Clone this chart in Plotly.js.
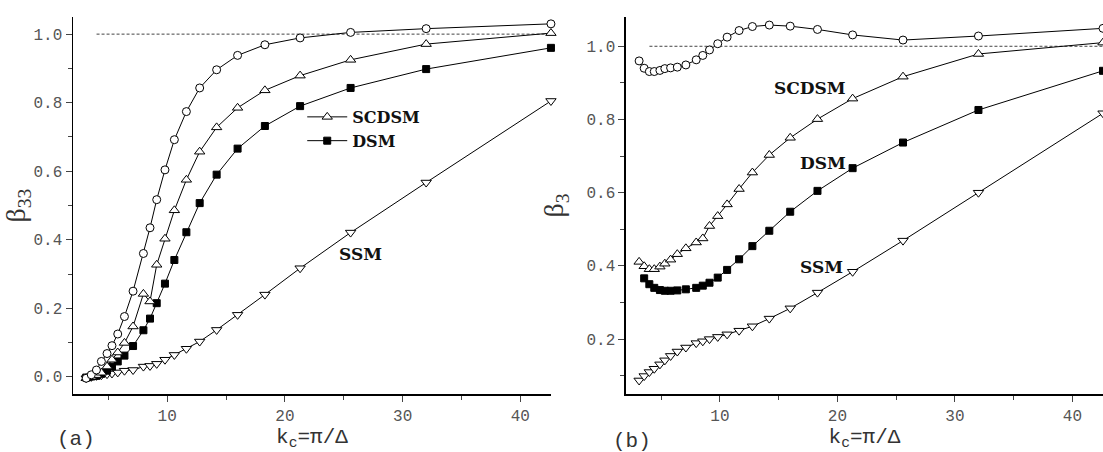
<!DOCTYPE html>
<html>
<head>
<meta charset="utf-8">
<script src="https://cdn.plot.ly/plotly-3.0.1.min.js"></script>
<style>html,body{margin:0;padding:0;background:#fff;}#chart{width:1103px;height:452px;}</style>
</head>
<body>
<div id="chart"></div>
<script>
// ---- data ----
var kcA = [3.12, 3.55, 3.99, 4.41, 4.89, 5.31, 5.80, 6.37, 7.10, 7.98, 8.54, 9.11, 9.81, 10.61, 11.63, 12.76, 14.20, 15.98, 18.30, 21.29, 25.58, 32.0, 42.6];
var gcdsmA = [-0.004, 0.006, 0.02, 0.045, 0.068, 0.091, 0.125, 0.176, 0.250, 0.360, 0.435, 0.517, 0.604, 0.692, 0.774, 0.843, 0.896, 0.938, 0.969, 0.989, 1.005, 1.016, 1.030];
var scdsmA = [-0.004, 0.0, 0.005, 0.012, 0.030, 0.05, 0.071, 0.099, 0.147, 0.242, 0.22, 0.327, 0.403, 0.486, 0.575, 0.657, 0.728, 0.785, 0.836, 0.879, 0.925, 0.971, 1.003];
var dsmA = [-0.002, 0.001, 0.003, 0.009, 0.018, 0.030, 0.045, 0.062, 0.090, 0.136, 0.170, 0.215, 0.272, 0.341, 0.422, 0.507, 0.590, 0.666, 0.732, 0.790, 0.843, 0.898, 0.960];
var ssmA = [-0.004, 0.0, 0.003, 0.005, 0.008, 0.010, 0.013, 0.018, 0.02, 0.03, 0.032, 0.038, 0.05, 0.064, 0.082, 0.103, 0.137, 0.181, 0.240, 0.317, 0.421, 0.567, 0.805];

var kcB = [3.12, 3.55, 3.99, 4.41, 4.89, 5.31, 5.80, 6.37, 7.10, 7.98, 8.54, 9.11, 9.81, 10.61, 11.63, 12.76, 14.20, 15.98, 18.30, 21.29, 25.58, 32.0, 42.6];
var kcBdsm = [3.55, 3.99, 4.41, 4.89, 5.31, 5.80, 6.37, 7.10, 7.98, 8.54, 9.11, 9.81, 10.61, 11.63, 12.76, 14.20, 15.98, 18.30, 21.29, 25.58, 32.0, 42.6];
var gcdsmB = [0.960, 0.940, 0.931, 0.931, 0.934, 0.939, 0.941, 0.943, 0.949, 0.963, 0.975, 0.990, 1.007, 1.025, 1.043, 1.054, 1.058, 1.055, 1.046, 1.031, 1.017, 1.028, 1.049];
var scdsmB = [0.411, 0.399, 0.391, 0.391, 0.398, 0.406, 0.417, 0.432, 0.448, 0.464, 0.475, 0.509, 0.536, 0.568, 0.610, 0.655, 0.703, 0.750, 0.801, 0.857, 0.917, 0.979, 1.010];
var dsmB = [0.366, 0.350, 0.340, 0.334, 0.332, 0.332, 0.333, 0.336, 0.340, 0.346, 0.354, 0.368, 0.389, 0.418, 0.454, 0.496, 0.548, 0.605, 0.667, 0.737, 0.826, 0.933];
var ssmB = [0.087, 0.099, 0.110, 0.119, 0.131, 0.142, 0.154, 0.166, 0.177, 0.189, 0.194, 0.200, 0.206, 0.213, 0.223, 0.235, 0.256, 0.284, 0.327, 0.384, 0.469, 0.600, 0.817];

var refX = [4.0, 42.6];
var refY = [1.0, 1.0];

var xTicks = [10, 20, 30, 40];
var yTicksA = [0.0, 0.2, 0.4, 0.6, 0.8, 1.0];
var yTicksB = [0.2, 0.4, 0.6, 0.8, 1.0];

// ---- styles ----
var lineStyle = {color: '#000', width: 1};
function mk(symbol, fill, size) {
  return {symbol: symbol, size: size, color: fill, line: {color: '#000', width: 1}};
}
var ref = {mode: 'lines', line: {color: '#444', width: 1, dash: '3px,2px'}, showlegend: false, hoverinfo: 'skip'};

var traces = [
  Object.assign({x: refX, y: refY, xaxis: 'x', yaxis: 'y'}, ref),
  Object.assign({x: refX, y: refY, xaxis: 'x2', yaxis: 'y2'}, ref),
  {x: kcA, y: ssmA, name: 'SSM', mode: 'lines+markers', line: lineStyle, marker: mk('triangle-down', '#fff', 9), xaxis: 'x', yaxis: 'y', showlegend: false, cliponaxis: false},
  {x: kcA, y: dsmA, name: 'DSM', mode: 'lines+markers', line: lineStyle, marker: mk('square', '#000', 7), xaxis: 'x', yaxis: 'y', showlegend: true, legendrank: 2, cliponaxis: false},
  {x: kcA, y: scdsmA, name: 'SCDSM', mode: 'lines+markers', line: lineStyle, marker: mk('triangle-up', '#fff', 9), xaxis: 'x', yaxis: 'y', showlegend: true, legendrank: 1, cliponaxis: false},
  {x: kcA, y: gcdsmA, name: 'GCDSM', mode: 'lines+markers', line: lineStyle, marker: mk('circle', '#fff', 8), xaxis: 'x', yaxis: 'y', showlegend: false, cliponaxis: false},
  {x: kcB, y: ssmB, name: 'SSM', mode: 'lines+markers', line: lineStyle, marker: mk('triangle-down', '#fff', 9), xaxis: 'x2', yaxis: 'y2', showlegend: false},
  {x: kcBdsm, y: dsmB, name: 'DSM', mode: 'lines+markers', line: lineStyle, marker: mk('square', '#000', 7), xaxis: 'x2', yaxis: 'y2', showlegend: false},
  {x: kcB, y: scdsmB, name: 'SCDSM', mode: 'lines+markers', line: lineStyle, marker: mk('triangle-up', '#fff', 9), xaxis: 'x2', yaxis: 'y2', showlegend: false},
  {x: kcB, y: gcdsmB, name: 'GCDSM', mode: 'lines+markers', line: lineStyle, marker: mk('circle', '#fff', 8), xaxis: 'x2', yaxis: 'y2', showlegend: false}
];

var tickFont = {family: 'Liberation Mono, monospace', size: 16, color: '#555'};
var titleFont = {family: 'Liberation Mono, monospace', size: 21, color: '#333'};
function xAxis(domain, anchor) {
  return {domain: domain, anchor: anchor, range: [2, 42.6], tickvals: xTicks, ticks: 'outside', ticklen: 6, tickwidth: 1,
    showline: true, linecolor: '#000', linewidth: 1.5, mirror: false, showgrid: false, zeroline: false,
    tickfont: tickFont, minor: {dtick: 5, tick0: 0, ticks: 'outside', ticklen: 4, tickwidth: 1, showgrid: false},
    title: {text: 'k<sub>c</sub>=π/Δ', font: titleFont, standoff: 0}};
}
function yAxis(range, vals, anchor, ttl) {
  return {domain: [0, 1], anchor: anchor, range: range, tickvals: vals, tickformat: '.1f', ticks: 'outside', ticklen: 6, tickwidth: 1,
    showline: true, linecolor: '#000', linewidth: 1.5, mirror: false, showgrid: false, zeroline: false,
    tickfont: tickFont, minor: {dtick: 0.1, tick0: 0, ticks: 'outside', ticklen: 4, tickwidth: 1, showgrid: false},
    title: {text: ttl, font: {family: 'Liberation Serif, serif', size: 28, color: '#333'}, standoff: 14}};
}

var labFont = {family: 'DejaVu Serif, serif', size: 17, color: '#111', weight: 'bold'};
function lab(text, x, y, xr, yr) {
  return {text: '<b>' + text + '</b>', x: x, y: y, xref: xr, yref: yr, showarrow: false, font: labFont, xanchor: 'center', yanchor: 'middle'};
}

var layout = {
  width: 1103, height: 452,
  margin: {l: 0, r: 0, t: 17, b: 58},
  paper_bgcolor: '#fff', plot_bgcolor: '#fff',
  showlegend: true,
  legend: {x: 0.274, y: 0.703, xanchor: 'left', yanchor: 'middle', bgcolor: 'rgba(0,0,0,0)', borderwidth: 0,
    font: {family: 'DejaVu Serif, serif', size: 16, color: '#111', weight: 'bold'}, itemwidth: 40, tracegroupgap: 0},
  xaxis: xAxis([0.0662, 0.4995], 'y'),
  yaxis: yAxis([-0.05, 1.05], yTicksA, 'x', 'β<sub>33</sub>'),
  xaxis2: xAxis([0.5675, 1.0], 'y2'),
  yaxis2: yAxis([0.05, 1.08], yTicksB, 'x2', 'β<sub>3</sub>'),
  annotations: [
    lab('GCDSM', 26.2, 1.054, 'x', 'y'),
    lab('SSM', 26.4, 0.359, 'x', 'y'),
    lab('GCDSM', 17.65, 1.088, 'x2', 'y2'),
    lab('SCDSM', 17.7, 0.886, 'x2', 'y2'),
    lab('DSM', 18.8, 0.681, 'x2', 'y2'),
    lab('SSM', 18.65, 0.397, 'x2', 'y2'),
    {text: '(a)', x: 0.0689, y: -0.122, xref: 'paper', yref: 'paper', showarrow: false, xanchor: 'center', yanchor: 'middle', font: {family: 'Liberation Mono, monospace', size: 21, color: '#333'}},
    {text: '(b)', x: 0.573, y: -0.125, xref: 'paper', yref: 'paper', showarrow: false, xanchor: 'center', yanchor: 'middle', font: {family: 'Liberation Mono, monospace', size: 21, color: '#333'}}
  ]
};

Plotly.newPlot('chart', traces, layout, {staticPlot: true, displayModeBar: false});
</script>
</body>
</html>
